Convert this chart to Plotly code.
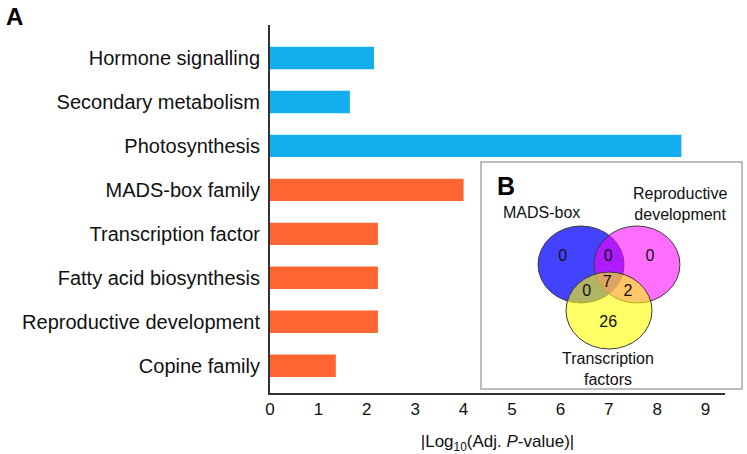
import plotly.graph_objects as go

# ---------------- data ----------------
categories = [
    "Hormone signalling",
    "Secondary metabolism",
    "Photosynthesis",
    "MADS-box family",
    "Transcription factor",
    "Fatty acid biosynthesis",
    "Reproductive development",
    "Copine family",
]
log_pvalues = [2.15, 1.65, 8.5, 4.0, 2.23, 2.23, 2.23, 1.36]
bar_groups = ["blue", "blue", "blue", "orange", "orange", "orange", "orange", "orange"]
x_ticks = [0, 1, 2, 3, 4, 5, 6, 7, 8, 9]

venn_sets = ["MADS-box", "Reproductive<br>development", "Transcription<br>factors"]
venn_regions = ["M", "M&R", "R", "M&R&T", "M&T", "R&T", "T"]
venn_counts = [0, 0, 0, 7, 0, 2, 26]

# ---------------- styling / layout ----------------
W, H = 747, 454
FONT = "Liberation Sans, Arial, sans-serif"
group_colors = {"blue": "#14AEEF", "orange": "#FF6533"}

# main plot area in pixels
pl, pr, pt, pb = 270, 725, 25, 393
# inset box in pixels
bl, br, bt, bb = 481, 742, 162, 389


def px(v):
    return v / W


def py(v):
    return 1 - v / H


fig = go.Figure()

fig.add_trace(go.Bar(
    y=categories,
    x=log_pvalues,
    orientation="h",
    marker=dict(color=[group_colors[g] for g in bar_groups], line=dict(width=0)),
    width=0.51,
    xaxis="x", yaxis="y",
    showlegend=False,
    hoverinfo="x+y",
))

# ---- Venn inset (own coordinate system: 1 unit = circle radius) ----
centers = {
    "M": (-0.65, 1.195),
    "R": (0.65, 1.195),
    "T": (0.0, 0.0),
}
venn_fill = {
    "M": "rgba(0,0,255,0.74)",
    "R": "rgba(255,0,255,0.57)",
    "T": "rgba(255,255,0,0.6)",
}
region_pos = {
    "M": (-1.077, 1.40),
    "M&R": (-0.02, 1.40),
    "R": (0.95, 1.40),
    "M&R&T": (-0.04, 0.72),
    "M&T": (-0.52, 0.48),
    "R&T": (0.44, 0.49),
    "T": (-0.02, -0.32),
}

fig.add_trace(go.Scatter(
    x=[region_pos[r][0] for r in venn_regions],
    y=[region_pos[r][1] for r in venn_regions],
    text=[str(c) for c in venn_counts],
    mode="text",
    textposition="middle center",
    textfont=dict(size=16, color="#111", family=FONT),
    xaxis="x2", yaxis="y2",
    showlegend=False,
    hoverinfo="skip",
))

shapes = [
    dict(type="rect", xref="paper", yref="paper",
         x0=px(bl), x1=px(br), y0=py(bb), y1=py(bt),
         line=dict(color="#A9A9A9", width=1.5), fillcolor="white", layer="below"),
]
for key in ["M", "R", "T"]:
    cx, cy = centers[key]
    shapes.append(dict(
        type="circle", xref="x2", yref="y2",
        x0=cx - 1, x1=cx + 1, y0=cy - 1, y1=cy + 1,
        fillcolor=venn_fill[key], line=dict(color="#3a3a3a", width=1), layer="below",
    ))

annotations = [
    dict(text="<b>A</b>", xref="paper", yref="paper", x=px(14), y=py(17),
         showarrow=False, font=dict(size=24, color="black", family=FONT),
         xanchor="center", yanchor="middle"),
    dict(text="<b>B</b>", xref="x2", yref="y2", x=-2.395, y=3.234,
         showarrow=False, font=dict(size=25, color="black", family=FONT),
         xanchor="center", yanchor="middle"),
    dict(text=venn_sets[0], xref="x2", yref="y2", x=-1.58, y=2.54,
         showarrow=False, font=dict(size=16, color="#111", family=FONT),
         xanchor="center", yanchor="middle"),
    dict(text=venn_sets[1], xref="x2", yref="y2", x=1.65, y=2.77,
         showarrow=False, font=dict(size=16, color="#111", family=FONT),
         xanchor="center", yanchor="middle"),
    dict(text=venn_sets[2], xref="x2", yref="y2", x=-0.02, y=-1.52,
         showarrow=False, font=dict(size=16, color="#111", family=FONT),
         xanchor="center", yanchor="middle"),
]

fig.update_layout(
    width=W, height=H,
    margin=dict(l=0, r=0, t=0, b=0),
    paper_bgcolor="white",
    plot_bgcolor="rgba(0,0,0,0)",
    font=dict(family=FONT, color="#111"),
    bargap=0.49,
    xaxis=dict(
        domain=[px(pl), px(pr)],
        range=[0, (pr - pl) / 48.4],
        tickvals=x_ticks,
        ticktext=[str(t) for t in x_ticks],
        ticks="", showgrid=False, zeroline=False,
        showline=True, linecolor="#333", linewidth=2,
        tickfont=dict(size=17, color="#111", family=FONT),
        title=dict(text="|Log<sub>10</sub>(Adj. <i>P</i>-value)|",
                   font=dict(size=17, color="#111", family=FONT), standoff=17),
        anchor="y", automargin=False, fixedrange=True,
    ),
    yaxis=dict(
        domain=[py(pb), py(pt)],
        type="category",
        categoryorder="array", categoryarray=categories,
        range=[7.62, -0.75],
        ticks="", showgrid=False, zeroline=False,
        showline=True, linecolor="#333", linewidth=2,
        tickfont=dict(size=20, color="#111", family=FONT),
        ticklabelstandoff=4,
        anchor="x", automargin=False, fixedrange=True,
    ),
    xaxis2=dict(
        domain=[px(bl), px(br)],
        range=[(bl - 609) / 43, (br - 609) / 43],
        visible=False, anchor="y2", fixedrange=True,
    ),
    yaxis2=dict(
        domain=[py(bb), py(bt)],
        range=[(310.5 - bb) / 38.5, (310.5 - bt) / 38.5],
        visible=False, anchor="x2", fixedrange=True,
    ),
    shapes=shapes,
    annotations=annotations,
)

fig.write_html(
    "out.html",
    config={"displayModeBar": False},
    post_script="document.body.style.margin='0px';document.body.style.padding='0px';",
)
